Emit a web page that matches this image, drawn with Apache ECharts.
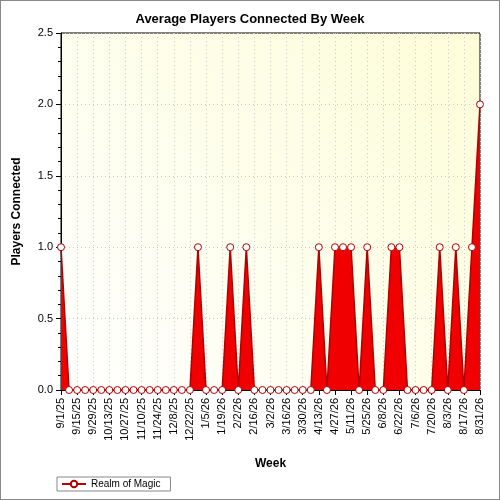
<!DOCTYPE html>
<html>
<head>
<meta charset="utf-8">
<script src="https://cdn.jsdelivr.net/npm/echarts@6/dist/echarts.min.js"></script>
<style>
	html, body { margin: 0; padding: 0; background: #fff; }
	#chart { width: 498px; height: 498px; border: 1px solid #888; }
</style>
</head>
<body>
<div id="chart"></div>
<script type="text/javascript">
	// 周（每周一）
	var weeks = ['9/1/25','9/8/25','9/15/25','9/22/25','9/29/25','10/6/25','10/13/25','10/20/25','10/27/25','11/3/25',
		'11/10/25','11/17/25','11/24/25','12/1/25','12/8/25','12/15/25','12/22/25','12/29/25','1/5/26','1/12/26',
		'1/19/26','1/26/26','2/2/26','2/9/26','2/16/26','2/23/26','3/2/26','3/9/26','3/16/26','3/23/26',
		'3/30/26','4/6/26','4/13/26','4/20/26','4/27/26','5/4/26','5/11/26','5/18/26','5/25/26','6/1/26',
		'6/8/26','6/15/26','6/22/26','6/29/26','7/6/26','7/13/26','7/20/26','7/27/26','8/3/26','8/10/26',
		'8/17/26','8/24/26','8/31/26'];
	// 平均在线人数
	var players = [1,0,0,0,0,0,0,0,0,0,
		0,0,0,0,0,0,0,1,0,0,
		0,1,0,1,0,0,0,0,0,0,
		0,0,1,0,1,1,1,0,1,0,
		0,1,1,0,0,0,0,1,0,1,
		0,1,2];
	var yTicks = [0, 0.5, 1, 1.5, 2, 2.5];

	var chart = echarts.init(document.getElementById('chart'));
	chart.setOption({
		backgroundColor: '#fff',
		animation: false,
		title: {
			text: 'Average Players Connected By Week', left: 'center', top: 7,
			textStyle: { fontFamily: 'Liberation Sans', fontSize: 13, fontWeight: 'bold', color: '#000' }
		},
		legend: {
			left: 56, top: 476, itemWidth: 24, itemHeight: 8, itemGap: 4,
			borderColor: '#888', borderWidth: 1, padding: [2, 10, 2, 4],
			textStyle: { fontFamily: 'Liberation Sans', fontSize: 10, color: '#000' }
		},
		grid: { left: 60, right: 19, top: 32, bottom: 109, show: true, borderColor: '#000',
			backgroundColor: new echarts.graphic.LinearGradient(0, 1, 1, 0, [
				{ offset: 0, color: '#ffffff' }, { offset: 1, color: '#fdfdd8' }]) },
		xAxis: {
			type: 'category', data: weeks, boundaryGap: false,
			name: 'Week', nameLocation: 'middle', nameGap: 68,
			nameTextStyle: { fontFamily: 'Liberation Sans', fontSize: 12, fontWeight: 'bold', color: '#000' },
			axisLine: { lineStyle: { color: '#000' } },
			axisTick: { interval: 1, lineStyle: { color: '#000' } },
			axisLabel: { interval: 1, rotate: 90, fontFamily: 'Liberation Sans', fontSize: 11, color: '#000' },
			splitLine: { show: true, interval: 1, lineStyle: { color: '#ccc', type: [1, 3] } }
		},
		yAxis: {
			type: 'value', min: yTicks[0], max: yTicks[yTicks.length - 1], interval: 0.5,
			name: 'Players Connected', nameLocation: 'middle', nameGap: 38,
			nameTextStyle: { fontFamily: 'Liberation Sans', fontSize: 12, fontWeight: 'bold', color: '#000' },
			axisLine: { show: true, lineStyle: { color: '#000' } },
			axisTick: { show: true, lineStyle: { color: '#000' } },
			minorTick: { show: true, splitNumber: 5, lineStyle: { color: '#000' } },
			axisLabel: { formatter: function (v) { return v.toFixed(1); },
				fontFamily: 'Liberation Sans', fontSize: 11, color: '#000' },
			splitLine: { lineStyle: { color: '#ccc', type: [1, 3] } }
		},
		series: [{
			name: 'Realm of Magic', type: 'line', data: players,
			symbol: 'circle', symbolSize: 7, showAllSymbol: true,
			itemStyle: { color: '#fff', borderColor: '#b00000', borderWidth: 1 },
			lineStyle: { color: '#b00000', width: 1.5 },
			areaStyle: { color: '#f00000', opacity: 1 }
		}]
	});
</script>
</body>
</html>
